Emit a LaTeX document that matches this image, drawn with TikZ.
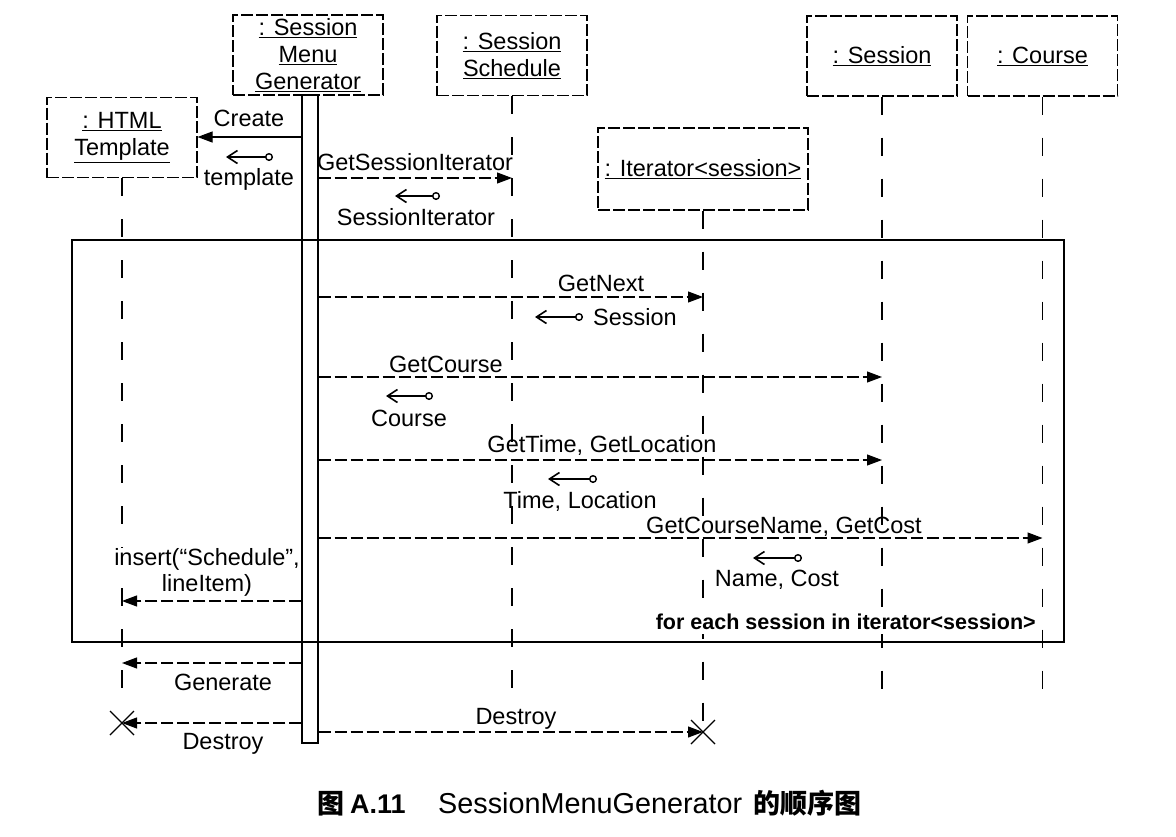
\documentclass[tikz,border=0pt]{standalone}
\usepackage{fontspec}
\setmainfont{Liberation Sans}
\newfontfamily\cjk{Noto Sans CJK SC}
\usetikzlibrary{arrows.meta}
\begin{document}
\begin{tikzpicture}[x=1pt,y=-1pt,
  txt/.style={font=\fontsize{23.5}{27}\selectfont},
  obj/.style={draw, line width=1.1pt, dash pattern=on 12pt off 3pt, minimum width=150pt, minimum height=80pt, inner sep=0pt, align=center, txt},
  lbl/.style={txt, inner sep=0pt, anchor=base},
  life/.style={line width=1.1pt, dash pattern=on 18pt off 23pt},
  msg/.style={line width=1.1pt, dash pattern=on 12pt off 4pt, -{Triangle[length=15pt,width=11pt]}},
  tok/.style={line width=1.4pt, {Straight Barb[length=10pt,width=13pt,line width=1.6pt]}-{Circle[open,length=8pt,width=8pt]}},
  xmark/.style={line width=1.3pt},
  captext/.style={anchor=base west, inner sep=0pt}
]
\useasboundingbox (0,0) rectangle (1176,836);

% objects
\node[obj] (html) at (122,137.5) {\underline{: HTML}\\\underline{Template}};
\node[obj] (smg) at (308,55) {\underline{: Session}\\\underline{Menu}\\\underline{Generator}};
\node[obj] (sched) at (512,55.5) {\underline{: Session}\\\underline{Schedule}};
\node[obj, minimum width=210pt, minimum height=82pt] (iter) at (703,169) {\underline{: Iterator<session>}};
\node[obj] (sess) at (882,56) {\underline{: Session}};
\node[obj] (course) at (1042.5,56) {\underline{: Course}};

% lifeline ends
\coordinate (htmlend) at (122,697);
\coordinate (htmlx) at (122,723);
\coordinate (schedend) at (512,697);
\coordinate (iterx) at (703,732);
\coordinate (sessend) at (882,697);
\coordinate (courseend) at (1042.5,697);

\draw[life] (html.south) -- (htmlend);
\draw[life] (sched.south) -- (schedend);
\draw[life] (iter.south) -- (iterx);
\draw[life] (sess.south) -- (sessend);
\draw[life] (course.south) -- (courseend);

% activation bar
\node[draw, fill=white, line width=1.1pt, minimum width=16pt, minimum height=648pt, inner sep=0pt] (bar) at (310,419) {};

% loop frame
\node[draw, line width=2.8pt, minimum width=992pt, minimum height=402pt, inner sep=0pt] (loop) at (568,441) {};
\node[lbl, anchor=base east, fill=white, inner xsep=1pt, inner ysep=5pt, font=\bfseries\fontsize{21.5}{25}\selectfont] (looplbl) at (1037,629) {for each session in iterator<session>};

% message levels
\coordinate (y1) at (0,137);
\coordinate (y2) at (0,178);
\coordinate (y3) at (0,297);
\coordinate (y4) at (0,377);
\coordinate (y5) at (0,460);
\coordinate (y6) at (0,538);
\coordinate (y7) at (0,601);
\coordinate (y8) at (0,663);
\coordinate (y10) at (0,732);

% messages
\draw[msg, solid] (bar.west |- y1) -- (html.east |- y1);
\draw[msg] (bar.east |- y2) -- (sched.south |- y2);
\draw[msg] (bar.east |- y3) -- (iter.south |- y3);
\draw[msg] (bar.east |- y4) -- (sess.south |- y4);
\draw[msg] (bar.east |- y5) -- (sess.south |- y5);
\draw[msg] (bar.east |- y6) -- (course.south |- y6);
\draw[msg] (bar.west |- y7) -- (html.south |- y7);
\draw[msg] (bar.west |- y8) -- (html.south |- y8);
\draw[msg] (bar.west |- htmlx) -- (htmlx);
\draw[msg] (bar.east |- y10) -- (iterx);

% destroy marks
\draw[xmark] (htmlx) +(-12,-12) -- +(12,12) +(-12,12) -- +(12,-12);
\draw[xmark] (iterx) +(-12,-12) -- +(12,12) +(-12,12) -- +(12,-12);

% return tokens
\draw[tok] (226,157) -- (273,157);
\draw[tok] (395,196) -- (440,196);
\draw[tok] (535,317) -- (583,317);
\draw[tok] (386,396) -- (433,396);
\draw[tok] (548,479) -- (597,479);
\draw[tok] (753,558) -- (802,558);

% labels
\node[lbl] (l1) at (249,126) {Create};
\node[lbl] (l1r) at (249,185) {template};
\node[lbl] (l2) at (415,170) {GetSessionIterator};
\node[lbl] (l2r) at (416,225) {SessionIterator};
\node[lbl] (l3) at (601,291) {GetNext};
\node[lbl, anchor=base west] (l3r) at (593,325) {Session};
\node[lbl] (l4) at (446,372) {GetCourse};
\node[lbl] (l4r) at (409,426) {Course};
\node[lbl] (l5) at (602,452) {GetTime, GetLocation};
\node[lbl] (l5r) at (580,508) {Time, Location};
\node[lbl] (l6) at (784,533) {GetCourseName, GetCost};
\node[lbl] (l6r) at (777,586) {Name, Cost};
\node[lbl, fill=white] (l7a) at (207,565) {insert(“Schedule”,};
\node[lbl, fill=white] (l7b) at (207,591) {lineItem)};
\node[lbl] (l8) at (223,690) {Generate};
\node[lbl] (l9) at (223,749) {Destroy};
\node[lbl] (l10) at (516,724) {Destroy};

% caption
\node[captext, font=\fontsize{27}{30}\cjk\bfseries] (c1) at (317,813) {图};
\node[captext, font=\fontsize{27}{30}\selectfont\bfseries] (c2) at (350,813) {A.11};
\node[captext, font=\fontsize{28.8}{30}\selectfont] (c3) at (438,813) {SessionMenuGenerator};
\node[captext, font=\fontsize{27}{30}\cjk\bfseries] (c4) at (753,813) {的顺序图};
\end{tikzpicture}
\end{document}
